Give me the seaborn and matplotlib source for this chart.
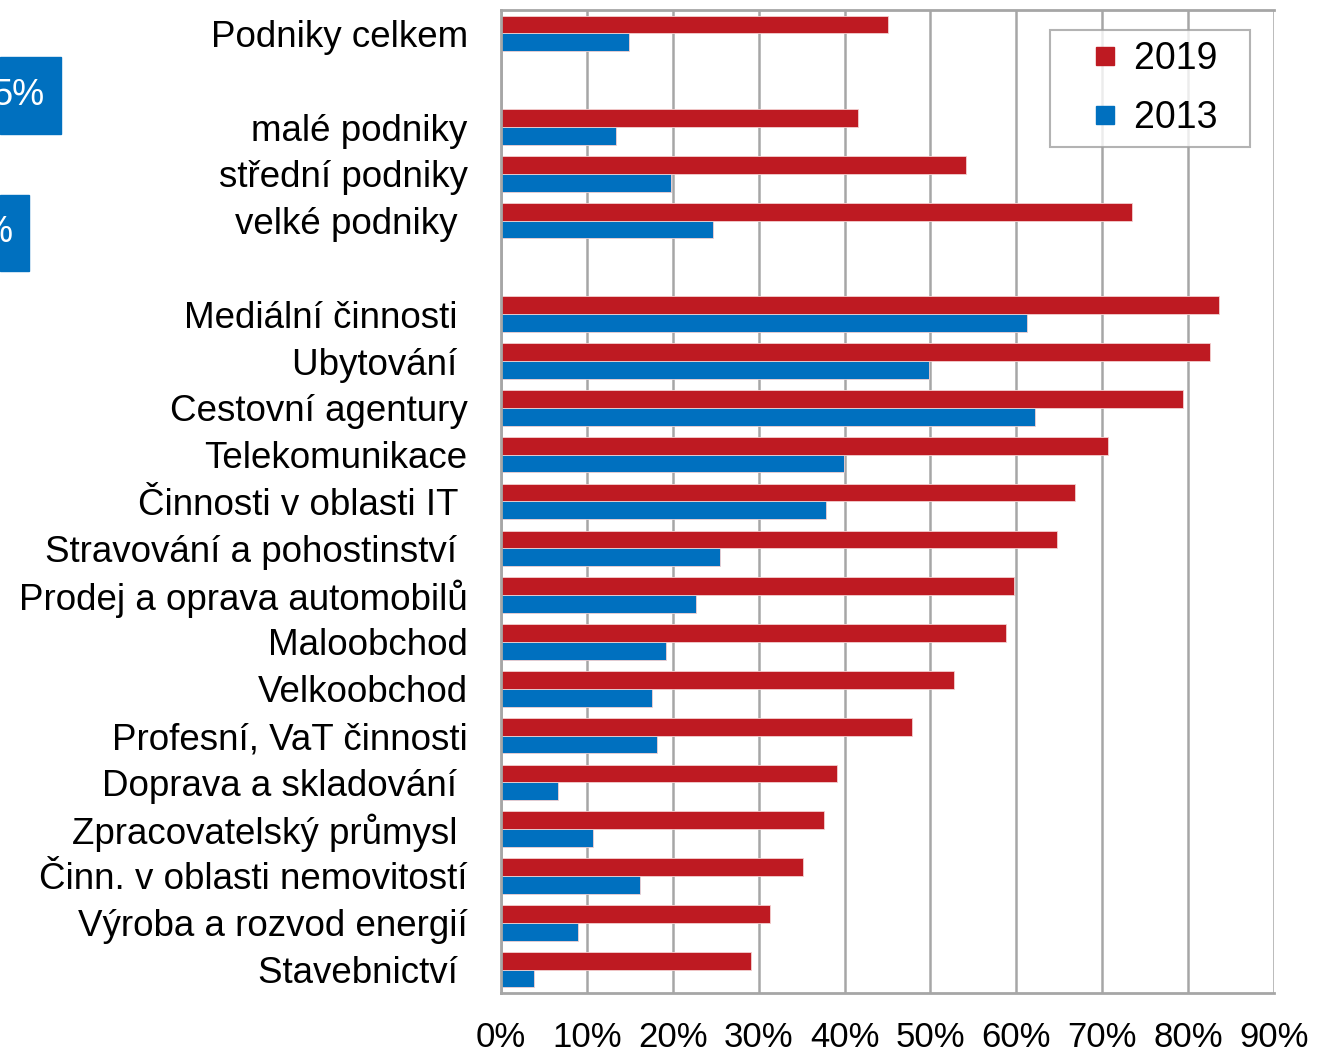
import numpy as np
import pandas as pd
import seaborn as sns
import matplotlib.pyplot as plt
from matplotlib.patches import Rectangle
from matplotlib.lines import Line2D

# slots with "" / " " are blank spacer rows
categories = ["Podniky celkem", "", "malé podniky", "střední podniky", "velké podniky ", " ",
              "Mediální činnosti ", "Ubytování ", "Cestovní agentury", "Telekomunikace",
              "Činnosti v oblasti IT ", "Stravování a pohostinství ", "Prodej a oprava automobilů",
              "Maloobchod", "Velkoobchod", "Profesní, VaT činnosti", "Doprava a skladování ",
              "Zpracovatelský průmysl ", "Činn. v oblasti nemovitostí", "Výroba a rozvod energií",
              "Stavebnictví "]
v2019 = [45.0, np.nan, 41.6, 54.1, 73.5, np.nan,
         83.6, 82.5, 79.4, 70.7, 66.8, 64.7, 59.7, 58.8, 52.7, 47.8, 39.1, 37.6, 35.2, 31.3, 29.1]
v2013 = [14.9, np.nan, 13.4, 19.8, 24.7, np.nan,
         61.2, 49.8, 62.2, 39.9, 37.8, 25.5, 22.7, 19.2, 17.6, 18.2, 6.6, 10.7, 16.2, 9.0, 3.8]
years = ["2019", "2013"]
colors = {"2019": "#BE1A22", "2013": "#0070BF"}

df = pd.concat([
    pd.DataFrame({"cat": categories, "val": v2019, "year": "2019"}),
    pd.DataFrame({"cat": categories, "val": v2013, "year": "2013"}),
], ignore_index=True)

sns.set_style("white")
plt.rcParams["font.family"] = ["Liberation Sans", "DejaVu Sans"]
plt.rcParams["text.color"] = "black"
plt.rcParams["xtick.color"] = "black"
plt.rcParams["ytick.color"] = "black"

fig = plt.figure(figsize=(13.17, 10.54), dpi=100)
ax = fig.add_axes([0.3804, 0.0579, 0.5870, 0.9326])

sns.barplot(data=df, y="cat", x="val", hue="year", order=categories, hue_order=years,
            palette=colors, orient="h", width=0.76, edgecolor="#f3d0d0", linewidth=0.6,
            saturation=1, ax=ax, legend=False)

ax.set_xlim(0, 90)
ax.set_ylim(20.5, -0.5)
ax.set_xticks(range(0, 91, 10))
ax.set_xticklabels([f"{t}%" for t in range(0, 91, 10)], fontsize=25,
                   family=["Liberation Sans Narrow", "Liberation Sans"])
ax.tick_params(axis="x", pad=20, length=0)
ax.tick_params(axis="y", labelsize=26.5, pad=24, length=0)
ax.set_xlabel("")
ax.set_ylabel("")
ax.grid(axis="x", color="#a6a6a6", linewidth=1.8)
ax.set_axisbelow(True)
for s in ax.spines.values():
    s.set_color("#a6a6a6")
    s.set_linewidth(2)
ax.spines["right"].set_visible(False)

handles = [Line2D([], [], linestyle="none", marker="s", markersize=13.5,
                  markerfacecolor=colors[y], markeredgecolor=colors[y]) for y in years]
leg = ax.legend(handles, [y + "  " for y in years], loc="upper right",
                bbox_to_anchor=(1250 / 1317, 1 - 30 / 1054), bbox_transform=fig.transFigure,
                fontsize=27, frameon=True, fancybox=False, handlelength=2.35,
                handletextpad=-0.4, labelspacing=0.6, borderpad=0.3, borderaxespad=0)
leg.get_frame().set_edgecolor("#a0a0a0")
leg.get_frame().set_linewidth(1.5)

# cut-off callout boxes at the left edge
for (x0, y0, w, h, txt, tx) in [(0, 57, 61, 77, "5%", 45), (0, 195, 29, 76, "%", 13)]:
    fig.patches.append(Rectangle((x0 / 1317, 1 - (y0 + h) / 1054), w / 1317, h / 1054,
                                 transform=fig.transFigure, color="#0070BF"))
    fig.text(tx / 1317, 1 - (y0 + h / 2) / 1054, txt, color="white", fontsize=26,
             ha="right", va="center")

fig.savefig("out.png", dpi=100)
